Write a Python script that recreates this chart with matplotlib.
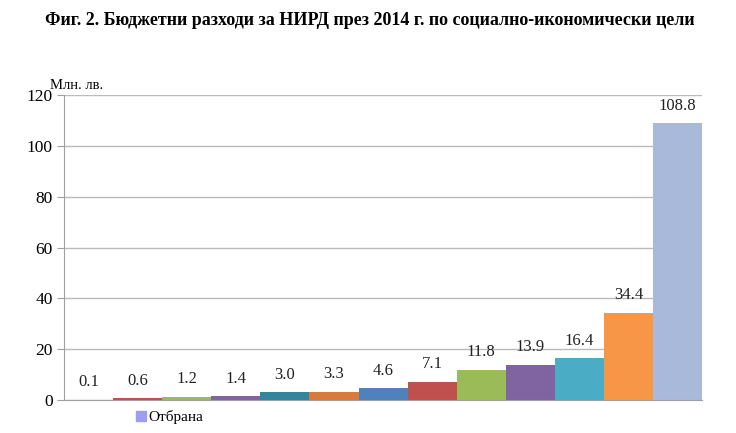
import numpy as np
import matplotlib

matplotlib.use("Agg")
import matplotlib.pyplot as plt
from matplotlib.patches import Patch

plt.rcParams["font.family"] = ["Liberation Serif", "DejaVu Serif"]

# --- Data (million BGN, 2014) ----------------------------------------------
values = [0.1, 0.6, 1.2, 1.4, 3.0, 3.3, 4.6, 7.1, 11.8, 13.9, 16.4, 34.4, 108.8]
bar_colors = [
    "#9D9DF2", "#C0504D", "#9BBB59", "#8064A2", "#31859C", "#D9793A", "#4F81BD",
    "#C0504D", "#9BBB59", "#8064A2", "#4BACC6", "#F79646", "#A9B9DA",
]
legend_labels = ["Отбрана"]  # only the first legend entry is visible
y_ticks = [0, 20, 40, 60, 80, 100, 120]
title = "Фиг. 2. Бюджетни разходи за НИРД през 2014 г. по социално-икономически цели"
y_unit = "Млн. лв."

fig = plt.figure(figsize=(7.36, 4.33), dpi=100)
ax = fig.add_axes([0.087, 0.0762, 0.867, 0.7044])

x = np.arange(len(values))
bars = ax.bar(x, values, width=1.0, color=bar_colors, zorder=2)
ax.bar_label(bars, fmt="%.1f", padding=7, fontsize=12, color="#222222")

ax.set_xlim(-0.5, len(values) - 0.5)
ax.set_ylim(0, 120)
ax.set_yticks(y_ticks)
ax.set_xticks([])
ax.tick_params(axis="y", labelsize=12.5, length=5, color="#A0A0A0", pad=3)
ax.yaxis.grid(True, color="#BBBBBB", linewidth=1, zorder=0)
for side in ["top", "right"]:
    ax.spines[side].set_visible(False)
for side in ["left", "bottom"]:
    ax.spines[side].set_color("#A0A0A0")

fig.text(0.068, 0.788, y_unit, fontsize=10.5, ha="left", va="bottom")
fig.text(0.503, 0.952, title, fontsize=13, fontweight="bold", ha="center", va="center")

handles = [Patch(color=bar_colors[0], label=legend_labels[0])]
fig.legend(handles=handles, loc="lower left", bbox_to_anchor=(0.175, 0.002),
           frameon=False, fontsize=11, handlelength=0.6, handleheight=0.6,
           handletextpad=0.2, borderpad=0)

fig.savefig("out.png", dpi=100)
